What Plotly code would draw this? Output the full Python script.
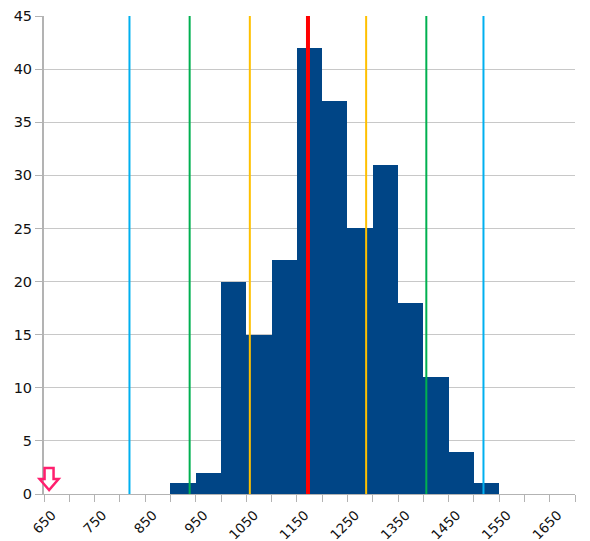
import plotly.graph_objects as go

# Histogram bins (lower edge) and counts
bin_lo = [900, 950, 1000, 1050, 1100, 1150, 1200, 1250, 1300, 1350, 1400, 1450, 1500]
counts = [1, 2, 20, 15, 22, 42, 37, 25, 31, 18, 11, 4, 1]
bin_width = 50

# Reference lines (mean and +/- 1, 2, 3 sd)
ref_lines = [819, 938, 1057, 1172, 1287, 1406, 1519]
ref_colors = ["#00b0f0", "#00b050", "#ffc000", "#ff0000", "#ffc000", "#00b050", "#00b0f0"]
ref_widths = [2, 2, 2, 4, 2, 2, 2]

# Axis ticks
x_range = [650, 1700]
x_ticks = list(range(650, 1701, 50))
x_ticklabels = [str(v) if (v - 650) % 100 == 0 else "" for v in x_ticks]
y_ticks = list(range(0, 46, 5))

arrow_x = 660

fig = go.Figure()
fig.add_trace(go.Bar(
    x=bin_lo, y=counts, width=bin_width, offset=0,
    marker=dict(color="#004586", line=dict(width=0)),
    showlegend=False, hoverinfo="skip",
))

for xv, c, w in zip(ref_lines, ref_colors, ref_widths):
    fig.add_shape(type="line", x0=xv, x1=xv, y0=0, y1=45, xref="x", yref="y",
                  line=dict(color=c, width=w), layer="above")

# Down arrow marker (paper-referenced so it is not clipped at the axis)
arrow_paper_x = (arrow_x - x_range[0]) / (x_range[1] - x_range[0])
fig.add_shape(type="path", xref="paper", yref="paper", xsizemode="pixel", ysizemode="pixel",
              xanchor=arrow_paper_x, yanchor=0,
              path="M 0 4 L -9.5 15 L -4.5 15 L -4.5 26 L 4.5 26 L 4.5 15 L 9.5 15 Z",
              line=dict(color="#ff1f6e", width=2.5), fillcolor="rgba(0,0,0,0)", layer="above")

fig.update_layout(
    width=590, height=541,
    margin=dict(l=44, r=15, t=16, b=47),
    paper_bgcolor="white", plot_bgcolor="white",
    font=dict(family="DejaVu Sans", size=14.5, color="#111"),
    bargap=0,
)
fig.update_xaxes(
    range=x_range, tickvals=x_ticks, ticktext=x_ticklabels, tickangle=-45,
    ticks="outside", ticklen=7, tickcolor="#b3b3b3", showgrid=False,
    showline=True, linecolor="#b3b3b3", linewidth=1, zeroline=False,
    tickfont=dict(size=13.5),
    ticklabelshift=8, ticklabelstandoff=0, automargin=False,
)
fig.update_yaxes(
    range=[0, 45], tickvals=y_ticks, ticks="outside", ticklen=7, tickcolor="#b3b3b3",
    showgrid=True, gridcolor="#c8c8c8", gridwidth=1,
    showline=True, linecolor="#b3b3b3", linewidth=2, zeroline=False,
    automargin=False,
)

fig.write_html(
    "out.html",
    config={"displayModeBar": False},
    post_script="document.body.style.margin='0';document.body.style.padding='0';document.body.style.overflow='hidden';",
)
